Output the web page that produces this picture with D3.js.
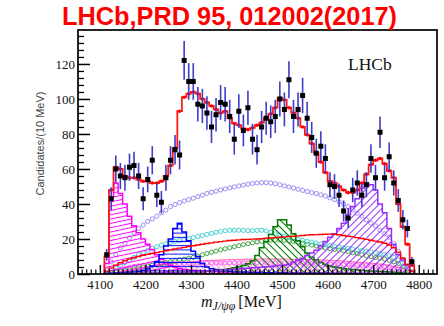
<!DOCTYPE html>
<html>
<head>
<meta charset="utf-8">
<script src="https://cdn.jsdelivr.net/npm/d3@7"></script>
<style>
  html, body { margin: 0; padding: 0; background: #fff; }
  svg { display: block; }
</style>
</head>
<body>
<svg id="chart" width="444" height="326"></svg>
<script>
// m(J/psi phi) bin centres, 10 MeV bins
const massBins = [4115,4125,4135,4145,4155,4165,4175,4185,4195,4205,
  4215,4225,4235,4245,4255,4265,4275,4285,4295,4305,
  4315,4325,4335,4345,4355,4365,4375,4385,4395,4405,
  4415,4425,4435,4445,4455,4465,4475,4485,4495,4505,
  4515,4525,4535,4545,4555,4565,4575,4585,4595,4605,
  4615,4625,4635,4645,4655,4665,4675,4685,4695,4705,
  4715,4725,4735,4745,4755,4765,4775,4785];

// observed candidates per bin
const dataCounts = [11,43,60,56,55,61,62,56,43,54,
  65,45,41,55,65,71,68,122,110,110,
  97,96,92,84,91,98,97,90,77,93,
  82,95,77,71,84,89,87,90,100,94,
  111,90,94,102,89,78,69,73,66,51,
  50,45,36,32,48,52,45,51,66,55,
  81,55,67,52,42,31,26,7];

// total fit
const totalFit = [10,48,61,60,56,55,55,54,53,53,
  52,52,53,56,62,72,93,101,103,104,
  103,100,98,96,94,92,93,89,86,85,
  83,82.5,83.5,85,86.5,89,91.5,95,100.5,99.5,
  95,92,89,84,79.5,74.5,69,64,58,53,
  52,50,48,46.5,46.5,48,52,57,62.5,65,
  66,63,59,55,40,27,17,5];

// X(4140)
const x4140 = [6,44,52,46,40,33,27.5,23.5,20,17,
  14,11,8.5,6.5,5,4,3.2,2.7,2.3,2,
  1.8,1.6,1.5,1.4,1.3,1.2,1.1,1.1,1,1,
  0.9,0.9,0.8,0.8,0.8,0.7,0.7,0.7,0.6,0.6,
  0.6,0.6,0.5,0.5,0.5,0.5,0.5,0.4,0.4,0.4,
  0.4,0.4,0.4,0.3,0.3,0.3,0.3,0.3,0.3,0.3,
  0.3,0.3,0.2,0.2,0.2,0.2,0.1,0];

// X(4274)
const x4274 = [0.3,0.5,0.6,0.7,0.8,1,1.2,1.5,2,2.8,
  4.5,7,11,16,20,26,29,24,19,13,
  10,6,4,3,2.5,2,1.7,1.5,1.3,1.2,
  1.1,1,0.9,0.8,0.8,0.7,0.7,0.6,0.6,0.6,
  0.5,0.5,0.5,0.5,0.4,0.4,0.4,0.4,0.4,0.3,
  0.3,0.3,0.3,0.3,0.3,0.3,0.3,0.2,0.2,0.2,
  0.2,0.2,0.2,0.2,0.1,0.1,0.1,0];

// X(4500)
const x4500 = [0.1,0.2,0.2,0.3,0.3,0.3,0.4,0.4,0.4,0.5,
  0.5,0.6,0.6,0.7,0.7,0.8,0.9,1,1.1,1.2,
  1.3,1.4,1.6,1.8,2,2.3,2.6,3,3.5,4,
  4.8,5.8,7.5,10.5,15,18.5,22.5,27,31,31,
  28,23,19,15.5,12,9.5,8,6.5,5.5,4.6,
  4,3.5,3.1,2.8,2.5,2.3,2.1,1.9,1.7,1.6,
  1.4,1.3,1.1,1,0.8,0.6,0.4,0.1];

// X(4700)
const x4700 = [0.1,0.2,0.2,0.3,0.3,0.3,0.4,0.4,0.5,0.5,
  0.6,0.6,0.7,0.8,0.8,0.9,1,1.1,1.2,1.3,
  1.4,1.5,1.6,1.8,1.9,2.1,2.3,2.5,2.7,2.9,
  3.1,3.3,3.5,3.7,3.9,4.1,4.3,4.5,4.8,5,
  5.5,6.5,8,9,10.5,12,13.5,16,18.5,21,
  23,26,29,34,38.5,43,49,52,51,48,
  40,35,26,17,11,8,5,1.5];

// non-resonant J/psi phi
const nonResonant = [1.5,3.5,5,6.5,7.5,8.5,9.3,10,10.7,11.2,
  11.7,12.2,12.8,13.3,13.8,14.3,14.8,15.2,15.7,16.1,
  16.6,17,17.4,17.8,18.2,18.5,18.8,19.1,19.3,19.5,
  19.7,19.8,19.9,20,20.2,20.4,20.6,20.8,21,21.2,
  21.4,21.6,21.8,22,22.2,22.4,22.5,22.6,22.7,22.8,
  22.7,22.4,22,21.6,21.2,20.8,20.3,19.8,19.3,18.8,
  18.3,17.6,16.6,15,12.5,9,5.5,1.5];

// broad K* contributions (open markers)
const kstarViolet = [2,7,11,15,17.5,20.5,23.5,26,28,30,
  31.5,33,35,36.5,38.5,39.7,40.8,41.7,42.5,43.3,
  44.2,45,46,46.7,47.3,48,48.6,49.2,49.8,50.3,
  50.8,51.3,51.7,52,52.2,52.2,52,51.6,51,50.3,
  49.7,49.1,48.4,47.8,47.1,46.5,46,45.2,44.5,43.5,
  42.5,41.3,40,38.5,36.7,34.7,33,31,29,27.5,
  25,23,21,17.5,13,8.5,4.5,1.2];

const kstarCyan = [0.5,2,3.5,5,6.5,8,9.5,11,12.3,13.5,
  14.6,15.6,16.5,17.3,18,18.6,19.1,19.6,20.2,20.8,
  21.4,22,22.6,23.2,23.8,24.3,24.7,25,25,25,
  24.9,24.8,24.8,24.9,25,24.6,23.8,23,22.3,21.6,
  21,20.4,19.8,19.2,18.7,18.2,17.7,17.2,16.7,16.2,
  15.8,15.4,15,14.6,14.2,13.8,13.4,13,12.6,12.2,
  11.7,11.1,10.4,9.5,8,6,3.5,1];

const kstarGreen = [0,0.5,1,1.5,2,2.5,3,3.5,4,4.5,
  5,5.5,6,6.5,7,7.5,8,8.5,9,9.5,
  10.2,11,11.7,12.4,13.1,13.8,14.4,15,15.6,16.2,
  16.8,17.3,17.8,18.3,18.7,19,19.3,19.4,19.4,19.3,
  19,18.6,18.2,17.6,17,16.5,16,15.4,14.9,14.5,
  14.1,13.7,13.3,12.8,12.2,11.6,11,10.4,9.9,9.4,
  9,8.5,7.8,7,6,4.5,2.8,0.8];

const kstarMagenta = [0,1,2,2.8,3.4,3.9,4.3,4.6,4.9,5.1,
  5.3,5.5,5.6,5.7,5.8,5.9,6,6,6.1,6.1,
  6.2,6.2,6.2,6.3,6.3,6.3,6.3,6.4,6.4,6.4,
  6.4,6.4,6.4,6.4,6.4,6.4,6.3,6.3,6.3,6.3,
  6.2,6.2,6.2,6.1,6.1,6,6,5.9,5.8,5.7,
  5.6,5.5,5.4,5.3,5.2,5.1,5,4.8,4.6,4.4,
  4.2,4,3.7,3.3,2.8,2.2,1.4,0.4];

// small hatched K* contribution near the floor
const kstarPink = [0,0.5,1,1.5,2,2.5,3,3.4,3.8,4.2,
  4.6,5,5.3,5.6,5.9,6.2,6.5,6.7,6.9,7.1,
  7.3,7.5,7.7,7.8,7.9,8,8.1,8.2,8.3,8.4,
  8.4,8.5,8.5,8.5,8.6,8.6,8.6,8.6,8.5,8.5,
  8.5,8.4,8.4,8.3,8.3,8.2,8.1,8,7.9,7.8,
  7.7,7.6,7.4,7.2,7,6.8,6.6,6.4,6.2,6,
  5.7,5.4,5,4.5,3.8,3,2,0.6];

const yTicks = [0, 20, 40, 60, 80, 100, 120];
const xTicks = [4100, 4200, 4300, 4400, 4500, 4600, 4700, 4800];

const binHalfWidth = 5;

const svg = d3.select('#chart');
const frame = { left: 78, right: 437, top: 30, bottom: 274 };

const x = d3.scaleLinear().domain([4052, 4840]).range([frame.left, frame.right]);
const y = d3.scaleLinear().domain([0, 139.4]).range([frame.bottom, frame.top]);

const defs = svg.append('defs');
defs.append('clipPath').attr('id', 'plotClip')
  .append('rect')
  .attr('x', frame.left).attr('y', frame.top)
  .attr('width', frame.right - frame.left).attr('height', frame.bottom - frame.top);

function hatch(id, color, angle, gap) {
  const p = defs.append('pattern')
    .attr('id', id)
    .attr('patternUnits', 'userSpaceOnUse')
    .attr('width', gap).attr('height', gap)
    .attr('patternTransform', `rotate(${angle})`);
  p.append('line')
    .attr('x1', 0).attr('y1', gap / 2).attr('x2', gap).attr('y2', gap / 2)
    .attr('stroke', color).attr('stroke-width', 1);
}
hatch('hMagenta', '#ff00ff', -12, 4.2);
hatch('hBlue', '#0000ff', 0, 4.2);
hatch('hGreen', '#007a00', 45, 5);
hatch('hViolet', '#9a2cff', -45, 5);
hatch('hPink', '#ff77bb', 45, 4);

const plot = svg.append('g').attr('clip-path', 'url(#plotClip)');

// histogram outline through the bin edges, closed to zero at both ends
function histPoints(vals) {
  const pts = [[massBins[0] - binHalfWidth, 0]];
  vals.forEach((v, i) => pts.push([massBins[i] - binHalfWidth, v]));
  const last = massBins.length - 1;
  pts.push([massBins[last] + binHalfWidth, vals[last]]);
  pts.push([massBins[last] + binHalfWidth, 0]);
  return pts;
}
const stepLine = d3.line()
  .x(d => x(d[0]))
  .y(d => y(d[1]))
  .curve(d3.curveStepAfter);

function hatchedHist(vals, color, patternId, width) {
  plot.append('path')
    .attr('d', stepLine(histPoints(vals)))
    .attr('fill', `url(#${patternId})`)
    .attr('stroke', color)
    .attr('stroke-width', width)
    .attr('stroke-linejoin', 'miter');
}

function openMarkers(vals, color) {
  plot.append('g').selectAll('circle')
    .data(vals)
    .join('circle')
    .attr('cx', (d, i) => x(massBins[i]))
    .attr('cy', d => y(d))
    .attr('r', 2.1)
    .attr('fill', 'none')
    .attr('stroke', color)
    .attr('stroke-width', 0.9);
}

// small components near the floor
hatchedHist(kstarPink, '#ff66aa', 'hPink', 1);
openMarkers(kstarMagenta, '#ff55ff');

// broad components
openMarkers(kstarGreen, '#339933');
openMarkers(kstarCyan, '#33cccc');
openMarkers(kstarViolet, '#8f80f0');

// exotic states
hatchedHist(x4140, '#ff00ff', 'hMagenta', 1.5);
hatchedHist(x4274, '#0000ff', 'hBlue', 1.5);
hatchedHist(x4500, '#007a00', 'hGreen', 1.5);
hatchedHist(x4700, '#9a2cff', 'hViolet', 1.5);

// non-resonant
plot.append('path')
  .attr('d', stepLine(histPoints(nonResonant)))
  .attr('fill', 'none')
  .attr('stroke', '#ff0000')
  .attr('stroke-width', 1.4);

// total fit
plot.append('path')
  .attr('d', stepLine(histPoints(totalFit)))
  .attr('fill', 'none')
  .attr('stroke', '#ff1a1a')
  .attr('stroke-width', 1.8);
plot.append('g').selectAll('circle')
  .data(totalFit)
  .join('circle')
  .attr('cx', (d, i) => x(massBins[i]))
  .attr('cy', d => y(d))
  .attr('r', 1.8)
  .attr('fill', '#ff0000');

// data with Poisson uncertainties
const dataG = plot.append('g');
dataG.selectAll('line')
  .data(dataCounts)
  .join('line')
  .attr('x1', (d, i) => x(massBins[i]))
  .attr('x2', (d, i) => x(massBins[i]))
  .attr('y1', d => y(d - Math.sqrt(d)))
  .attr('y2', d => y(d + Math.sqrt(d)))
  .attr('stroke', '#3d3dc8')
  .attr('stroke-width', 1.6);
dataG.selectAll('rect')
  .data(dataCounts)
  .join('rect')
  .attr('x', (d, i) => x(massBins[i]) - 2.5)
  .attr('y', d => y(d) - 2.5)
  .attr('width', 5).attr('height', 5)
  .attr('fill', '#000');

// axes: ticks point into the frame
const serif = '"Liberation Serif", "Times New Roman", serif';

const yMinor = d3.range(0, 139, 4).filter(v => v % 20 !== 0);
svg.append('g')
  .attr('transform', `translate(${frame.left},0)`)
  .call(d3.axisLeft(y).tickValues(yMinor).tickSize(-6).tickFormat(''))
  .call(g => g.select('.domain').remove())
  .call(g => g.selectAll('line').attr('stroke', '#000').attr('stroke-width', 1.3));
svg.append('g')
  .attr('transform', `translate(${frame.left},0)`)
  .call(d3.axisLeft(y).tickValues(yTicks).tickSize(-12).tickPadding(3).tickFormat(d3.format('d')))
  .call(g => g.select('.domain').remove())
  .call(g => g.selectAll('line').attr('stroke', '#000').attr('stroke-width', 1.5))
  .call(g => g.selectAll('text').attr('font-family', serif).attr('font-size', 13).attr('fill', '#111'));

const xMinor = d3.range(4060, 4840, 10).filter(v => v % 100 !== 0);
svg.append('g')
  .attr('transform', `translate(0,${frame.bottom})`)
  .call(d3.axisBottom(x).tickValues(xMinor).tickSize(-4.5).tickFormat(''))
  .call(g => g.select('.domain').remove())
  .call(g => g.selectAll('line').attr('stroke', '#000').attr('stroke-width', 1.2));
svg.append('g')
  .attr('transform', `translate(0,${frame.bottom})`)
  .call(d3.axisBottom(x).tickValues(xTicks).tickSize(-9).tickPadding(6).tickFormat(d3.format('d')))
  .call(g => g.select('.domain').remove())
  .call(g => g.selectAll('line').attr('stroke', '#000').attr('stroke-width', 1.4))
  .call(g => g.selectAll('text').attr('font-family', serif).attr('font-size', 13).attr('fill', '#111'));

// frame
svg.append('rect')
  .attr('x', frame.left).attr('y', frame.top)
  .attr('width', frame.right - frame.left).attr('height', frame.bottom - frame.top)
  .attr('fill', 'none').attr('stroke', '#000').attr('stroke-width', 1.7);

// axis titles
const xt = svg.append('text')
  .attr('x', 201).attr('y', 307)
  .attr('font-family', serif).attr('font-size', 16).attr('fill', '#111');
xt.append('tspan').attr('font-style', 'italic').text('m');
xt.append('tspan').attr('font-style', 'italic').attr('font-size', 12).attr('dy', 3).text('J/ψφ');
xt.append('tspan').attr('dy', -3).attr('dx', 3).text('[MeV]');

svg.append('text')
  .attr('transform', 'translate(44,143.5) rotate(-90)')
  .attr('text-anchor', 'middle')
  .attr('font-family', '"Liberation Sans", Arial, sans-serif')
  .attr('font-size', 11)
  .attr('fill', '#444')
  .text('Candidates/(10 MeV)');

svg.append('text')
  .attr('x', 348).attr('y', 70)
  .attr('font-family', serif).attr('font-size', 17.5).attr('fill', '#111')
  .text('LHCb');

svg.append('text')
  .attr('x', 62).attr('y', 25)
  .attr('textLength', 335).attr('lengthAdjust', 'spacingAndGlyphs')
  .attr('font-family', '"Liberation Sans", Arial, sans-serif')
  .attr('font-weight', 'bold').attr('font-size', 25)
  .attr('fill', '#ff0000')
  .text('LHCb,PRD 95, 012002(2017)');
</script>
</body>
</html>
